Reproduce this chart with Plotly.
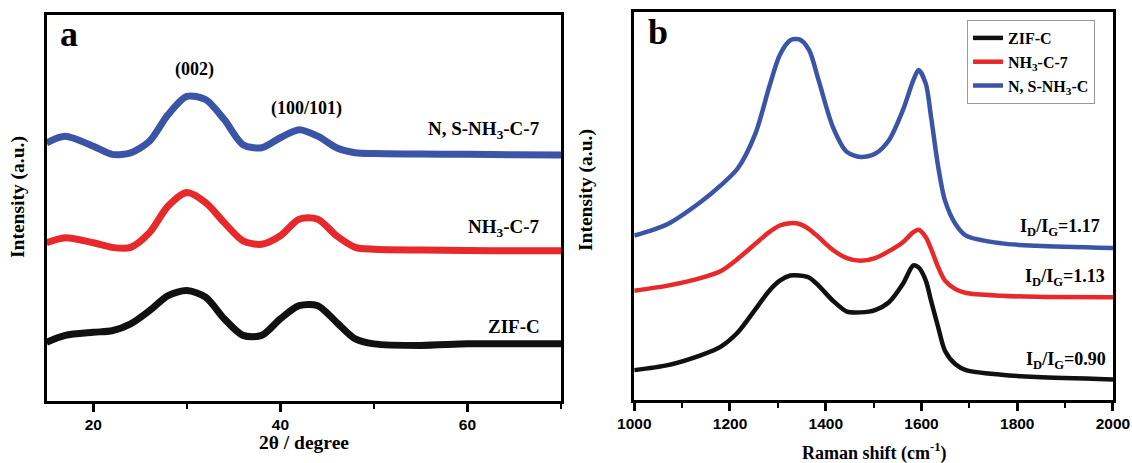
import plotly.graph_objects as go

# ---------- Panel a : XRD ----------
two_theta = [15, 17, 20, 22, 24, 26, 28, 30, 32, 34, 36, 38, 40, 42, 44, 46, 48, 50, 55, 60, 65, 70]
xrd_ns = [66.9, 68.6, 66.0, 63.9, 64.3, 67.3, 74.2, 78.9, 78.1, 72.9, 66.4, 65.6, 68.2, 70.3, 68.6, 65.6, 64.3, 64.1, 64.0, 63.9, 63.8, 63.7]
xrd_nh3 = [41.0, 42.3, 41.0, 39.8, 39.8, 43.6, 50.5, 54.0, 51.4, 46.2, 41.5, 40.6, 42.8, 47.1, 47.1, 42.8, 39.8, 39.3, 39.1, 39.0, 38.9, 38.9]
xrd_zif = [15.2, 17.0, 17.8, 18.2, 20.0, 23.4, 27.3, 28.6, 26.9, 21.3, 17.0, 17.0, 21.3, 24.7, 24.7, 20.4, 16.1, 14.8, 14.4, 14.8, 14.8, 14.8]

# ---------- Panel b : Raman ----------
raman_shift = [1000, 1070, 1140, 1180, 1216, 1253, 1282, 1304, 1326, 1345, 1365, 1385, 1415, 1444, 1473,
               1503, 1532, 1561, 1583, 1594, 1609, 1620, 1635, 1649, 1671, 1693, 1767, 1840, 2000]
raman_ns = [42.4, 45.4, 51.2, 55.3, 59.7, 68.7, 80.8, 89.0, 92.8, 93.0, 90.3, 82.5, 70.4, 64.0, 62.7,
            63.5, 67.0, 74.7, 82.5, 85.1, 81.6, 73.0, 60.1, 51.5, 45.4, 42.4, 40.4, 39.8, 39.2]
raman_nh3 = [28.2, 29.5, 31.5, 33.2, 36.4, 40.3, 43.3, 45.0, 45.6, 45.4, 44.1, 42.0, 38.7, 36.6, 35.9,
             36.6, 38.4, 40.7, 43.3, 43.9, 42.0, 39.0, 34.2, 30.8, 28.6, 27.6, 26.9, 26.6, 26.5]
raman_zif = [7.7, 9.0, 11.6, 13.7, 17.4, 23.4, 28.2, 30.8, 32.1, 32.1, 31.6, 29.5, 25.6, 22.8, 22.6,
             23.2, 25.2, 29.9, 34.7, 34.2, 30.8, 25.6, 18.7, 12.7, 9.2, 7.7, 6.5, 5.9, 5.3]

legend_names = ["ZIF-C", "NH<sub>3</sub>-C-7", "N, S-NH<sub>3</sub>-C"]
xrd_labels = ["ZIF-C", "NH<sub>3</sub>-C-7", "N, S-NH<sub>3</sub>-C-7"]
ratio_labels = ["I<sub>D</sub>/I<sub>G</sub>=0.90", "I<sub>D</sub>/I<sub>G</sub>=1.13", "I<sub>D</sub>/I<sub>G</sub>=1.17"]

BLACK = "#111111"
RED = "#e8282b"
BLUE = "#3b55a6"
colors = [BLACK, RED, BLUE]

SERIF = "Liberation Serif"
SANS = "Liberation Sans"

fig = go.Figure()

for ys, c in zip([xrd_zif, xrd_nh3, xrd_ns], colors):
    fig.add_trace(go.Scatter(x=two_theta, y=ys, mode="lines", line=dict(color=c, width=7, shape="spline", smoothing=0.8),
                             xaxis="x", yaxis="y", showlegend=False, hoverinfo="skip"))

for ys, c, n in zip([raman_zif, raman_nh3, raman_ns], colors, legend_names):
    fig.add_trace(go.Scatter(x=raman_shift, y=ys, mode="lines", name=n,
                             line=dict(color=c, width=4.5, shape="spline", smoothing=0.8),
                             xaxis="x2", yaxis="y2", showlegend=True))

axis_common = dict(showline=True, mirror=True, linecolor="black", linewidth=2.5, showgrid=False, zeroline=False,
                   automargin=False)

fig.update_layout(
    template="none",
    width=1132, height=463,
    autosize=False,
    margin=dict(l=0, r=0, t=0, b=0, pad=0, autoexpand=False),
    paper_bgcolor="white", plot_bgcolor="white",
    xaxis=dict(domain=[0.0411, 0.4956], range=[15, 70], tick0=0, dtick=20, ticks="outside", ticklen=8, tickwidth=2.5,
               tickcolor="black", tickfont=dict(family=SANS, size=15.5, color="black", weight="bold"),
               minor=dict(dtick=10, tick0=0, ticks="outside", ticklen=5, tickwidth=2, tickcolor="black"),
               anchor="y", **axis_common),
    yaxis=dict(domain=[0.1339, 0.9676], range=[0, 100], showticklabels=False, ticks="", anchor="x", **axis_common),
    xaxis2=dict(domain=[0.5603, 0.9832], range=[1000, 2000], tick0=1000, dtick=200, ticks="outside", ticklen=8, tickwidth=2.5,
                tickcolor="black", tickfont=dict(family=SANS, size=15.5, color="black", weight="bold"),
                minor=dict(dtick=100, tick0=1000, ticks="outside", ticklen=5, tickwidth=2, tickcolor="black"),
                anchor="y2", **axis_common),
    yaxis2=dict(domain=[0.1361, 0.9734], range=[0, 100], showticklabels=False, ticks="", anchor="x2", **axis_common),
    legend=dict(x=967 / 1132, y=1 - 20 / 463, xanchor="left", yanchor="top", bgcolor="white",
                bordercolor="#999999", borderwidth=1, font=dict(family=SERIF, size=16, color="black", weight="bold"),
                tracegroupgap=0, itemwidth=30),
)

def ann(text, x, y, xref, yref, size, xanchor="center", yanchor="middle", angle=0, family=SERIF):
    fig.add_annotation(text=text, x=x, y=y, xref=xref, yref=yref, showarrow=False, xanchor=xanchor, yanchor=yanchor,
                       textangle=angle, font=dict(family=family, size=size, color="black", weight="bold"))

# panel letters
ann("a", 58 / 1132, 1 - 12 / 463, "paper", "paper", 36, xanchor="left", yanchor="top")
ann("b", 646 / 1132, 1 - 10 / 463, "paper", "paper", 36, xanchor="left", yanchor="top")

# panel a annotations
ann("(002)", 30.8, 85.8, "x", "y", 18)
ann("(100/101)", 42.8, 75.9, "x", "y", 18)
for t, yv in zip(xrd_labels, [19.4, 44.8, 70.2]):
    ann(t, 68.0, yv, "x", "y", 19, xanchor="right")

# panel b annotations
for t, xv, yv in zip(ratio_labels, [1989, 1987, 1977], [10.3, 31.5, 44.6]):
    ann(t, xv, yv, "x2", "y2", 18, xanchor="right")

# axis titles
ann("2θ / degree", 304 / 1132, 1 - 442 / 463, "paper", "paper", 19.5)
ann("Raman shift (cm<sup>-1</sup>)", 874 / 1132, 1 - 452 / 463, "paper", "paper", 18)
ann("Intensity (a.u.)", 18 / 1132, 1 - 197 / 463, "paper", "paper", 19.5, angle=-90)
ann("Intensity (a.u.)", 586 / 1132, 1 - 190 / 463, "paper", "paper", 19.5, angle=-90)

fig.write_html("out.html", config={"displayModeBar": False},
               post_script="document.body.style.margin='0';document.body.style.overflow='hidden';")
